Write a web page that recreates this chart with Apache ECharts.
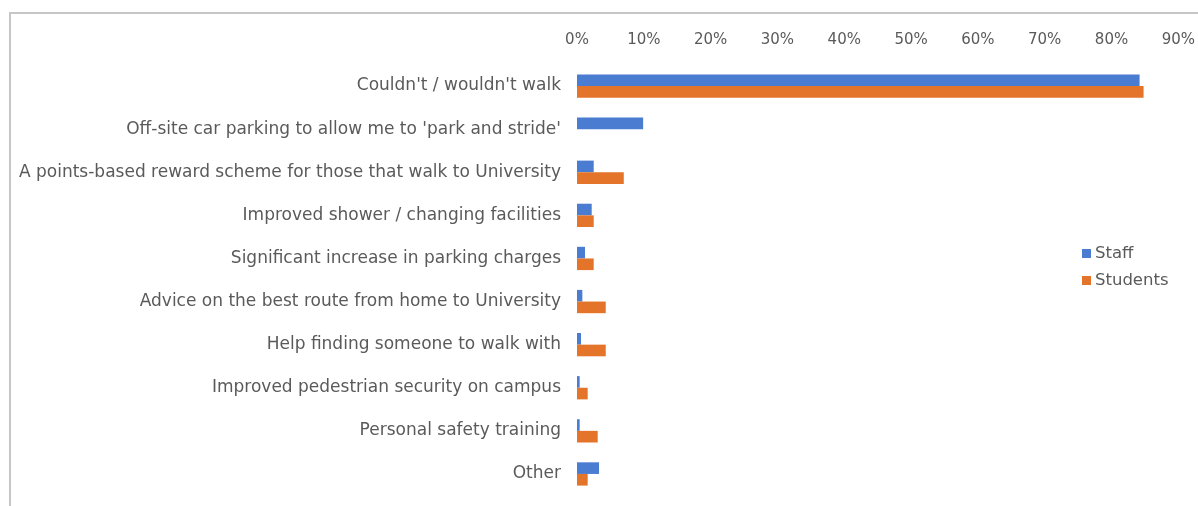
<!DOCTYPE html>
<html>
<head>
<meta charset="utf-8">
<title>Measures that would encourage walking to University</title>
<script src="https://cdn.jsdelivr.net/npm/echarts@6/dist/echarts.min.js"></script>
<style>
  html, body { margin: 0; padding: 0; background: #ffffff; }
  #chart { width: 1198px; height: 506px; }
</style>
</head>
<body>
<div id="chart"></div>
<script>
// Answer options, top to bottom
const categories = [
  "Couldn't / wouldn't walk",
  "Off-site car parking to allow me to 'park and stride'",
  "A points-based reward scheme for those that walk to University",
  "Improved shower / changing facilities",
  "Significant increase in parking charges",
  "Advice on the best route from home to University",
  "Help finding someone to walk with",
  "Improved pedestrian security on campus",
  "Personal safety training",
  "Other"
];

// Share of respondents (%)
const staffValues    = [84.2, 9.9, 2.5, 2.2, 1.2, 0.8, 0.6, 0.4, 0.4, 3.3];
const studentValues  = [84.8, 0,   7.0, 2.5, 2.5, 4.3, 4.3, 1.6, 3.1, 1.6];

const seriesNames = ["Staff", "Students"];
const tickMax = 90;
const tickStep = 10;

const FONT = "DejaVu Sans";
const TEXT = "#5a5a5a";

const chart = echarts.init(document.getElementById('chart'), null, { renderer: 'canvas' });

chart.setOption({
  backgroundColor: '#ffffff',
  animation: false,
  textStyle: { fontFamily: FONT, color: TEXT },
  graphic: [
    {
      type: 'polyline',
      silent: true,
      shape: { points: [[10, 506], [10, 13], [1198, 13]] },
      style: { stroke: '#c6c6c6', lineWidth: 2, fill: null }
    }
  ],
  legend: {
    orient: 'vertical',
    left: 1077,
    top: 240,
    itemWidth: 9,
    itemHeight: 9,
    itemGap: 10,
    icon: 'rect',
    textStyle: { fontFamily: FONT, fontSize: 16.5, color: TEXT, padding: [0, 0, 0, -1] },
    data: seriesNames
  },
  grid: {
    left: 577,
    right: 17,
    top: 64.5,
    bottom: 10.5,
    containLabel: false
  },
  xAxis: {
    type: 'value',
    position: 'top',
    min: 0,
    max: tickMax,
    interval: tickStep,
    axisLine: { show: false },
    axisTick: { show: false },
    splitLine: { show: false },
    axisLabel: {
      fontFamily: FONT,
      fontSize: 15,
      color: TEXT,
      margin: 17,
      formatter: v => v + '%'
    }
  },
  yAxis: {
    type: 'category',
    inverse: true,
    data: categories,
    axisLine: { show: false },
    axisTick: { show: false },
    axisLabel: {
      fontFamily: FONT,
      fontSize: 17,
      color: TEXT,
      margin: 16
    }
  },
  series: [
    {
      name: seriesNames[0],
      type: 'bar',
      data: staffValues,
      itemStyle: { color: '#4a7dd2' },
      barGap: '0%',
      barCategoryGap: '46%'
    },
    {
      name: seriesNames[1],
      type: 'bar',
      data: studentValues,
      itemStyle: { color: '#e3742a' },
      barGap: '0%',
      barCategoryGap: '46%'
    }
  ]
});
</script>
</body>
</html>
